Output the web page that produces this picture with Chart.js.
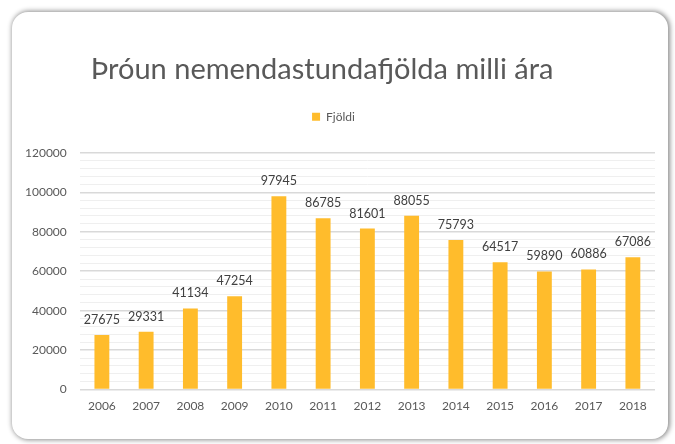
<!DOCTYPE html>
<html>
<head>
<meta charset="utf-8">
<script src="https://cdn.jsdelivr.net/npm/chart.js@4"></script>
<style>
body { margin: 0; background: #fff; }
#card {
    position: absolute; left: 12px; top: 12px; width: 656px; height: 427px;
    border-radius: 16px; background: #fff; overflow: hidden;
    box-shadow: 1px 0 5px 1px rgba(0, 0, 0, 0.45);
}
#card canvas { display: block; }
</style>
</head>
<body>
<div id="card"><canvas id="bar-chart"></canvas></div>
<script>
const years = ['2006', '2007', '2008', '2009', '2010', '2011', '2012', '2013', '2014', '2015', '2016', '2017', '2018'];
const hours = [27675, 29331, 41134, 47254, 97945, 86785, 81601, 88055, 75793, 64517, 59890, 60886, 67086];
const yTicks = [0, 20000, 40000, 60000, 80000, 100000, 120000];

const textColor = '#595959';
const barColor = '#FFBC2C';

//Numbers above the bars
const valueLabels = {
    id: 'valueLabels',
    afterDatasetsDraw(chart) {
        const ctx = chart.ctx;
        const meta = chart.getDatasetMeta(0);
        ctx.save();
        ctx.font = '12.5px Lato';
        ctx.fillStyle = '#404040';
        ctx.textAlign = 'center';
        ctx.textBaseline = 'alphabetic';
        meta.data.forEach((bar, i) => {
            ctx.fillText(hours[i], bar.x, bar.y - 11);
        });
        ctx.restore();
    }
};

//Extra room under the legend, and nudge the title a bit to the right
const spacing = {
    id: 'spacing',
    beforeInit(chart) {
        const fit = chart.legend.fit;
        chart.legend.fit = function() {
            fit.bind(chart.legend)();
            this.height += 20;
        };
    },
    afterLayout(chart) {
        chart.titleBlock.left += 11;
        chart.titleBlock.right += 11;
    }
};

new Chart(document.getElementById('bar-chart'), {
    type: 'bar',
    data: {
        labels: years,
        datasets: [{
            label: 'Fjöldi',
            data: hours,
            backgroundColor: barColor,
            barPercentage: 0.7,
            categoryPercentage: 0.48,
        }]
    },
    options: {
        responsive: true,
        maintainAspectRatio: false,
        animation: false,
        layout: { padding: { left: 0, right: 13, top: 0, bottom: 17 } },
        plugins: {
            title: {
                display: true,
                text: 'Þróun nemendastundafjölda milli ára',
                align: 'start',
                fullSize: false,
                color: textColor,
                font: { family: 'Lato', size: 29, weight: 'normal' },
                padding: { top: 40, bottom: 18 },
            },
            legend: {
                labels: {
                    color: textColor,
                    font: { family: 'Lato', size: 12 },
                    boxWidth: 8,
                    boxHeight: 8,
                    padding: 6,
                },
            },
            tooltip: { enabled: false },
        },
        scales: {
            x: {
                grid: { display: false, drawTicks: false },
                border: { display: false },
                ticks: { color: textColor, font: { family: 'Lato', size: 12 }, padding: 9 },
            },
            y: {
                min: 0,
                max: 120000,
                border: { display: false },
                grid: {
                    color: (c) => yTicks.includes(c.tick.value) ? '#D9D9D9' : '#EFEFEF',
                    lineWidth: (c) => yTicks.includes(c.tick.value) ? 1.5 : 1,
                    drawTicks: false,
                },
                ticks: {
                    stepSize: 4000,
                    autoSkip: false,
                    color: textColor,
                    font: { family: 'Lato', size: 12 },
                    padding: 13,
                    callback: (v) => yTicks.includes(v) ? v : '',
                },
            },
        },
    },
    plugins: [valueLabels, spacing],
});
</script>
</body>
</html>
